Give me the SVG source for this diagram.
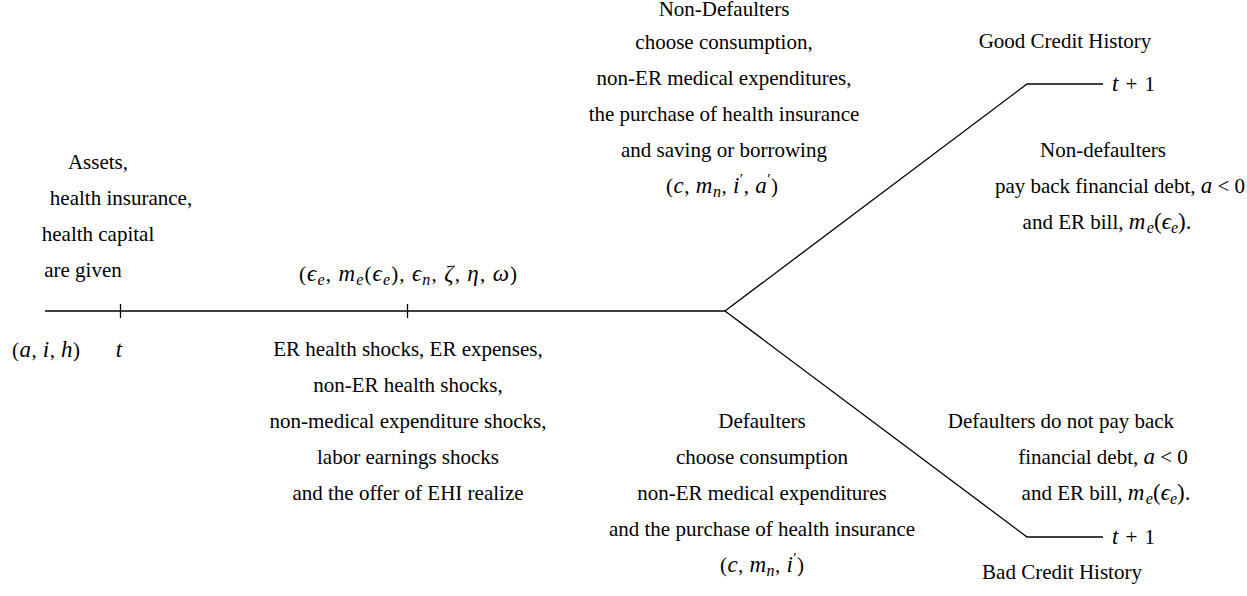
<svg xmlns="http://www.w3.org/2000/svg" width="1247" height="596" viewBox="0 0 1247 596" font-family="'Liberation Serif', serif">
<style>
text{font-family:'Liberation Serif','Times New Roman',serif;font-size:21px;fill:#000;text-anchor:middle}
.s{text-anchor:start}
.i{font-style:italic;font-size:23px}
.sub{font-size:16px;font-style:italic}
.pr{font-size:15px}
.ln{fill:none;stroke:#000;stroke-width:1.3}
</style>
<rect width="1247" height="596" fill="#fff"/>
<g id="connectors">
<line class="ln" x1="45" y1="311" x2="725" y2="311"/>
<line class="ln" x1="120.5" y1="304" x2="120.5" y2="318"/>
<line class="ln" x1="407.5" y1="304" x2="407.5" y2="318"/>
<polyline class="ln" points="725,311 1027,84 1103,84"/>
<polyline class="ln" points="725,311 1027,537 1103,537"/>
</g>
<g id="start">
<text x="98" y="169">Assets,</text>
<text x="121" y="205">health insurance,</text>
<text x="98" y="241">health capital</text>
<text x="83" y="277">are given</text>
<text x="46" y="357" textLength="68" lengthAdjust="spacing">(<tspan class="i">a</tspan>, <tspan class="i">i</tspan>, <tspan class="i">h</tspan>)</text>
<text class="i" x="119" y="357">t</text>
</g>
<g id="shocks">
<text x="408" y="281" textLength="218" lengthAdjust="spacing">(<tspan class="i">ϵ</tspan><tspan class="sub" dy="4">e</tspan><tspan dy="-4">, </tspan><tspan class="i">m</tspan><tspan class="sub" dy="4">e</tspan><tspan dy="-4">(</tspan><tspan class="i">ϵ</tspan><tspan class="sub" dy="4">e</tspan><tspan dy="-4">), </tspan><tspan class="i">ϵ</tspan><tspan class="sub" dy="4">n</tspan><tspan dy="-4">, </tspan><tspan class="i">ζ</tspan>, <tspan class="i">η</tspan>, <tspan class="i">ω</tspan>)</text>
<text x="408" y="356">ER health shocks, ER expenses,</text>
<text x="408" y="392">non-ER health shocks,</text>
<text x="408" y="428">non-medical expenditure shocks,</text>
<text x="408" y="464">labor earnings shocks</text>
<text x="408" y="500">and the offer of EHI realize</text>
</g>
<g id="non-defaulters">
<text x="724" y="16">Non-Defaulters</text>
<text x="724" y="49">choose consumption,</text>
<text x="724" y="85">non-ER medical expenditures,</text>
<text x="724" y="121">the purchase of health insurance</text>
<text x="724" y="157">and saving or borrowing</text>
<text x="722" y="193" textLength="112" lengthAdjust="spacing">(<tspan class="i">c</tspan>, <tspan class="i">m</tspan><tspan class="sub" dy="4">n</tspan><tspan dy="-4">, </tspan><tspan class="i">i</tspan><tspan class="pr" dy="-9">′</tspan><tspan dy="9">, </tspan><tspan class="i">a</tspan><tspan class="pr" dy="-9">′</tspan><tspan dy="9">)</tspan></text>
</g>
<g id="defaulters">
<text x="762" y="428">Defaulters</text>
<text x="762" y="464">choose consumption</text>
<text x="762" y="500">non-ER medical expenditures</text>
<text x="762" y="536">and the purchase of health insurance</text>
<text x="762" y="572" textLength="84" lengthAdjust="spacing">(<tspan class="i">c</tspan>, <tspan class="i">m</tspan><tspan class="sub" dy="4">n</tspan><tspan dy="-4">, </tspan><tspan class="i">i</tspan><tspan class="pr" dy="-9">′</tspan><tspan dy="9">)</tspan></text>
</g>
<g id="good-credit">
<text x="1065" y="48">Good Credit History</text>
<text class="s" x="1112" y="91" textLength="43" lengthAdjust="spacing"><tspan class="i">t</tspan> + 1</text>
<text x="1103" y="157">Non-defaulters</text>
<text x="1120" y="193">pay back financial debt, <tspan class="i">a</tspan> &lt; 0</text>
<text x="1107" y="229">and ER bill, <tspan class="i" letter-spacing="1.5">m</tspan><tspan class="sub" dy="4">e</tspan><tspan dy="-4" font-size="23">(</tspan><tspan class="i">ϵ</tspan><tspan class="sub" dy="4">e</tspan><tspan dy="-4" font-size="23">).</tspan></text>
</g>
<g id="bad-credit">
<text x="1061" y="428">Defaulters do not pay back</text>
<text x="1103" y="464">financial debt, <tspan class="i">a</tspan> &lt; 0</text>
<text x="1106" y="500">and ER bill, <tspan class="i" letter-spacing="1.5">m</tspan><tspan class="sub" dy="4">e</tspan><tspan dy="-4" font-size="23">(</tspan><tspan class="i">ϵ</tspan><tspan class="sub" dy="4">e</tspan><tspan dy="-4" font-size="23">).</tspan></text>
<text class="s" x="1112" y="544" textLength="43" lengthAdjust="spacing"><tspan class="i">t</tspan> + 1</text>
<text x="1062" y="579">Bad Credit History</text>
</g>
</svg>
